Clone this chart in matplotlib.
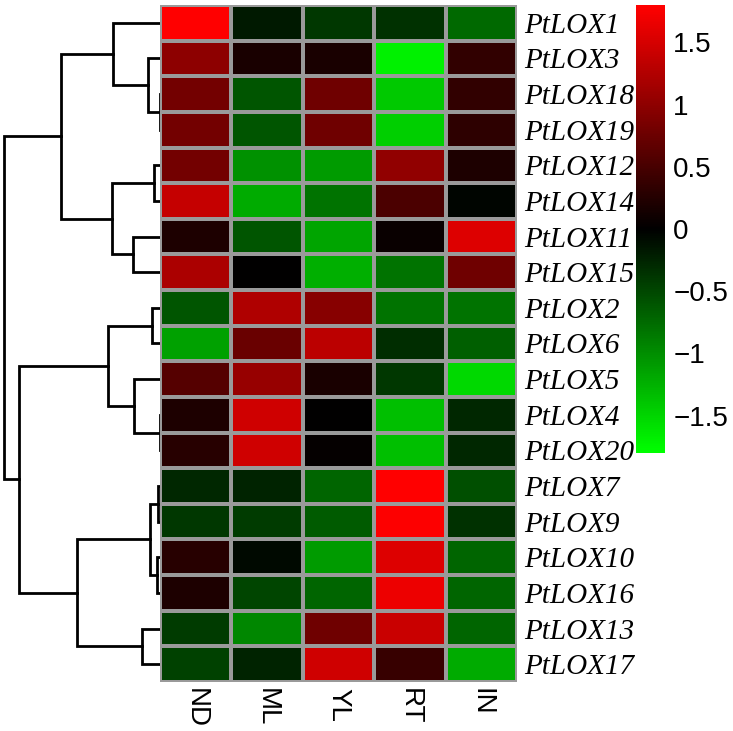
import numpy as np
import matplotlib
matplotlib.use('Agg')
import matplotlib.pyplot as plt
from matplotlib.colors import LinearSegmentedColormap

# row / column labels (order as shown, top to bottom)
genes = ['PtLOX1', 'PtLOX3', 'PtLOX18', 'PtLOX19', 'PtLOX12', 'PtLOX14',
         'PtLOX11', 'PtLOX15', 'PtLOX2', 'PtLOX6', 'PtLOX5', 'PtLOX4',
         'PtLOX20', 'PtLOX7', 'PtLOX9', 'PtLOX10', 'PtLOX16', 'PtLOX13',
         'PtLOX17']
tissues = ['ND', 'ML', 'YL', 'RT', 'IN']

# scaled expression, one list per tissue (column)
nd = [1.80, 0.99, 0.81, 0.81, 0.81, 1.38, 0.21, 1.20, -0.60, -1.13,
      0.60, 0.21, 0.28, -0.28, -0.39, 0.28, 0.21, -0.42, -0.46]
ml = [-0.18, 0.18, -0.60, -0.60, -1.02, -1.20, -0.60, 0.00, 1.23, 0.74,
      1.06, 1.45, 1.45, -0.25, -0.42, -0.07, -0.49, -0.95, -0.25]
yl = [-0.39, 0.18, 0.78, 0.78, -1.09, -0.81, -1.16, -1.23, 0.95, 1.31,
      0.18, 0.00, 0.03, -0.71, -0.64, -1.09, -0.71, 0.78, 1.45]
rt = [-0.35, -1.70, -1.41, -1.45, 1.02, 0.53, 0.07, -0.81, -0.81, -0.32,
      -0.39, -1.34, -1.34, 1.80, 1.78, 1.55, 1.66, 1.41, 0.39]
inn = [-0.74, 0.35, 0.35, 0.32, 0.21, -0.03, 1.55, 0.78, -0.81, -0.67,
       -1.52, -0.28, -0.28, -0.56, -0.35, -0.71, -0.71, -0.71, -1.20]

# row clustering: (child a, child b, height); ids >= 19 refer to earlier merges
merges = [(2, 3, 0.3), (11, 12, 0.3), (13, 14, 2), (15, 16, 3), (4, 5, 6),
          (8, 9, 8), (21, 22, 10), (1, 19, 12), (17, 18, 18), (10, 20, 26),
          (6, 7, 27), (0, 26, 47), (23, 29, 48), (24, 28, 52), (25, 27, 83),
          (30, 31, 99), (32, 33, 141), (34, 35, 156)]

cbar_ticks = [-1.5, -1, -0.5, 0, 0.5, 1, 1.5]
cbar_labels = ['\u22121.5', '\u22121', '\u22120.5', '0', '0.5', '1', '1.5']

data = np.array([nd, ml, yl, rt, inn]).T
n = len(genes)

W, H = 733, 731
fig = plt.figure(figsize=(W / 100, H / 100), dpi=100)

top, bot = 5, 682
ax = fig.add_axes([160 / W, (H - bot) / H, 357 / W, (bot - top) / H])
axd = fig.add_axes([0, (H - bot) / H, 160 / W, (bot - top) / H])
cax = fig.add_axes([636 / W, (H - 453) / H, 29 / W, 448 / H])

cmap = LinearSegmentedColormap.from_list('gbr', ['#00ff00', '#000000', '#ff0000'])
mesh = ax.pcolormesh(data, cmap=cmap, vmin=-1.8, vmax=1.8,
                     edgecolors='#9a9a9a', linewidth=1.5)
ax.set_xlim(0, len(tissues))
ax.set_ylim(n, 0)
for s in ax.spines.values():
    s.set_visible(False)
ax.yaxis.tick_right()
ax.set_yticks(np.arange(n) + 0.5)
ax.set_yticklabels(genes, fontfamily='Liberation Serif', fontstyle='italic',
                   fontsize=21)
ax.set_xticks(np.arange(len(tissues)) + 0.5)
ax.set_xticklabels(tissues, rotation=-90, fontfamily='Liberation Sans',
                   fontsize=20, va='top')
ax.tick_params(length=0, pad=5)
ax.tick_params(axis='x', pad=4)

# dendrogram
pos = {i: (i + 0.5, 0.0) for i in range(n)}
for k, (a, b, h) in enumerate(merges):
    ya, ha = pos[a]
    yb, hb = pos[b]
    axd.plot([ha, h, h, hb], [ya, ya, yb, yb], color='black', lw=2,
             solid_joinstyle='miter')
    pos[n + k] = ((ya + yb) / 2, h)
axd.set_xlim(160, 0)
axd.set_ylim(n, 0)
axd.axis('off')

cb = fig.colorbar(mesh, cax=cax, ticks=cbar_ticks)
cb.ax.set_yticklabels(cbar_labels, fontfamily='Liberation Sans', fontsize=20)
cb.ax.tick_params(length=0, pad=6)
cb.outline.set_visible(False)

fig.savefig('out.png', dpi=100)
